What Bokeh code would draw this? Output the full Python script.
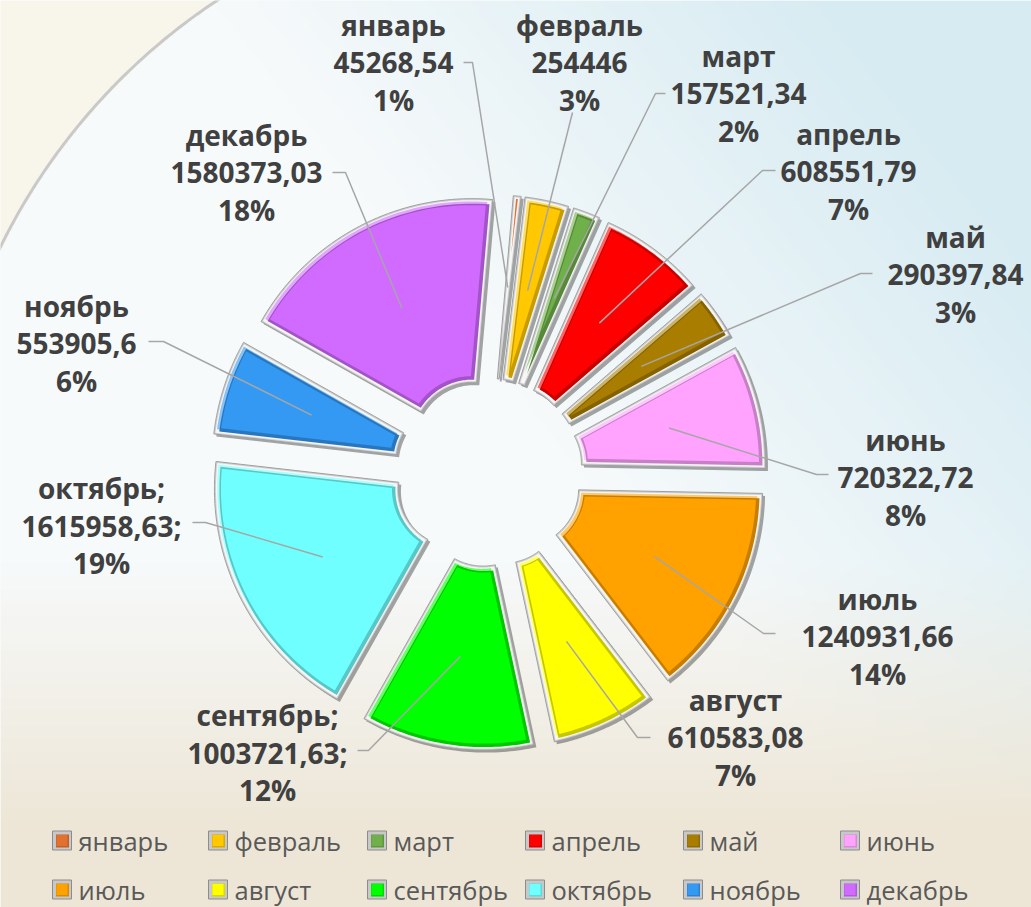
import math
import numpy as np
from bokeh.plotting import figure
from bokeh.models import Range1d, ColumnDataSource
from bokeh.embed import file_html
from bokeh.resources import INLINE
from bokeh.core.properties import value

# ---------------- data ----------------
months = ["январь", "февраль", "март", "апрель", "май", "июнь",
          "июль", "август", "сентябрь", "октябрь", "ноябрь", "декабрь"]
amounts = [45268.54, 254446, 157521.34, 608551.79, 290397.84, 720322.72,
           1240931.66, 610583.08, 1003721.63, 1615958.63, 553905.6, 1580373.03]
label_suffix = ["", "", "", "", "", "", "", "", ";", ";", "", ""]
colors = ["#e2702f", "#ffc800", "#6fb04a", "#ff0000", "#a97e00", "#ffa3ff",
          "#ffa200", "#ffff00", "#00ff00", "#70ffff", "#3399f3", "#d16bff"]

# ---------------- layout ----------------
WIDTH, HEIGHT = 1031, 907
CX, CY = 488.0, 472.0
R_IN, R_OUT = 58.0, 242.0
EXPLODE = 36.0
START_DEG = 5.0
LEADER_R = 150.0
LINE_GAP = 37.5

label_pos = [(393, 62), (579, 62), (738, 93), (848, 171), (955, 274), (905, 477),
             (877, 636), (735, 737), (267, 752), (101, 525), (76, 343), (246, 172)]
leader_tail = [[(472, 62), (463, 62)], [(572, 112)], [(655, 93), (665, 93)],
               [(762, 170), (775, 170)], [(860, 273), (872, 273)],
               [(816, 474), (828, 474)], [(763, 633), (775, 633)],
               [(637, 737), (650, 737)], [(368, 750), (357, 750)],
               [(205, 522), (192, 522)], [(163, 341), (148, 341)],
               [(345, 172), (332, 172)]]
legend_x = [52, 208, 367, 525, 683, 840]
legend_y = [840, 889]
BG_CX, BG_CY, BG_R = 562.0, 522.0, 626.0


def mix(hexc, other, t):
    a = [int(hexc[i:i + 2], 16) for i in (1, 3, 5)]
    return "#%02x%02x%02x" % tuple(int(round(a[k] * (1 - t) + other[k] * t)) for k in range(3))


def ring_poly(cx, cy, r1, r2, a1, a2, d=0.0, n=48):
    half = math.radians(a2 - a1) / 2
    if d > 0:
        r1e = max(r1 + d, d / math.sin(half) + 0.3)
        r2e = r2 - d
        if r1e >= r2e - 0.5:
            return None
    else:
        r1e, r2e = r1, r2

    def arc(r, rev):
        da = math.degrees(math.asin(min(1.0, d / r))) if d > 0 else 0.0
        s, e = a1 + da, a2 - da
        if e < s:
            s = e = (a1 + a2) / 2
        angs = np.radians(np.linspace(s, e, n))
        if rev:
            angs = angs[::-1]
        return list(cx + r * np.sin(angs)), list(cy - r * np.cos(angs))

    ox, oy = arc(r2e, False)
    ix, iy = arc(r1e, True)
    return ox + ix, oy + iy


total = float(sum(amounts))
cum = np.concatenate([[0.0], np.cumsum(amounts)])

p = figure(width=WIDTH, height=HEIGHT, x_range=Range1d(0, WIDTH), y_range=Range1d(HEIGHT, 0),
           output_backend="svg", toolbar_location=None, min_border=0,
           x_axis_location=None, y_axis_location=None)
p.grid.visible = False
p.outline_line_color = None
p.background_fill_color = "#f6f9fa"
p.border_fill_color = "#f6f9fa"

# ---------------- background ----------------
H, W = 300, 340
ys = np.linspace(0, HEIGHT, H)
xs = np.linspace(0, WIDTH, W)
X, Y = np.meshgrid(xs, ys)
white = np.array([247, 250, 251.0])
blue = np.array([214, 235, 242.0])
beige = np.array([237, 230, 214.0])
cream = np.array([248, 245, 235.0])
tb = np.clip((X / 1031 - 0.55) * 1.6 + (0.5 - Y / 907) * 1.1, 0, 1)[..., None]
ty = np.clip((Y / 907 - 0.62) / 0.3, 0, 1)[..., None]
outside = ((((X - BG_CX) ** 2 + (Y - BG_CY) ** 2) > BG_R ** 2) & (X < BG_CX) & (Y < BG_CY))[..., None]
col_in = white * (1 - tb) + blue * tb
col_in = col_in * (1 - ty) + beige * ty
col_out = cream * (1 - ty) + beige * ty
col = np.where(outside, col_out, col_in)
img = np.empty((H, W), dtype=np.uint32)
view = img.view(dtype=np.uint8).reshape((H, W, 4))
view[..., 0] = col[..., 0]
view[..., 1] = col[..., 1]
view[..., 2] = col[..., 2]
view[..., 3] = 255
p.image_rgba(image=[img], x=0, y=0, dw=WIDTH, dh=HEIGHT)
tt_arc = np.radians(np.linspace(85, 185, 200))
p.line(x=BG_CX + BG_R * np.cos(tt_arc), y=BG_CY - BG_R * np.sin(tt_arc),
       line_color="#c4c4c4", line_width=3, line_alpha=0.9)

# ---------------- slices ----------------
layers = {k: {"xs": [], "ys": [], "c": []} for k in
          ["shadow", "frame", "white", "light", "dark", "body"]}
ends = []
for i, v in enumerate(amounts):
    a1 = START_DEG + cum[i] / total * 360.0
    a2 = START_DEG + cum[i + 1] / total * 360.0
    mid = math.radians((a1 + a2) / 2)
    cx = CX + EXPLODE * math.sin(mid)
    cy = CY - EXPLODE * math.cos(mid)
    ends.append((cx + LEADER_R * math.sin(mid), cy - LEADER_R * math.cos(mid)))

    fx, fy = ring_poly(cx, cy, R_IN, R_OUT, a1, a2, 0)
    layers["shadow"]["xs"].append([x + 2.5 for x in fx])
    layers["shadow"]["ys"].append([y + 2.5 for y in fy])
    layers["shadow"]["c"].append("#3a3a3a")
    layers["frame"]["xs"].append(fx)
    layers["frame"]["ys"].append(fy)
    layers["frame"]["c"].append("#cfcfcf")
    w = ring_poly(cx, cy, R_IN, R_OUT, a1, a2, 1.5)
    if w:
        layers["white"]["xs"].append(w[0])
        layers["white"]["ys"].append(w[1])
        layers["white"]["c"].append("#f6f6f6")
    bev = ring_poly(cx, cy, R_IN, R_OUT, a1, a2, 4.0)
    if bev:
        layers["light"]["xs"].append([x - 1.2 for x in bev[0]])
        layers["light"]["ys"].append([y - 1.2 for y in bev[1]])
        layers["light"]["c"].append(mix(colors[i], (255, 255, 255), 0.4))
        layers["dark"]["xs"].append([x + 1.0 for x in bev[0]])
        layers["dark"]["ys"].append([y + 1.0 for y in bev[1]])
        layers["dark"]["c"].append(mix(colors[i], (0, 0, 0), 0.22))
    body = None
    for d in (6.5, 5.0, 3.0, 1.5, 0.5):
        body = ring_poly(cx, cy, R_IN, R_OUT, a1, a2, d)
        if body:
            break
    if body is None:
        body = (fx, fy)
    layers["body"]["xs"].append(body[0])
    layers["body"]["ys"].append(body[1])
    layers["body"]["c"].append(colors[i])

p.patches(xs="xs", ys="ys", fill_color="c", fill_alpha=0.45, line_color=None,
          source=ColumnDataSource(layers["shadow"]))
p.patches(xs="xs", ys="ys", fill_color="c", line_color="#a0a0a0", line_width=1,
          source=ColumnDataSource(layers["frame"]))
for k in ["white", "light", "dark", "body"]:
    p.patches(xs="xs", ys="ys", fill_color="c", line_color=None,
              source=ColumnDataSource(layers[k]))

# ---------------- leader lines ----------------
lx, ly = [], []
for i in range(len(amounts)):
    pts = [ends[i]] + leader_tail[i]
    lx.append([q[0] for q in pts])
    ly.append([q[1] for q in pts])
p.multi_line(xs=lx, ys=ly, line_color="#a6a6a6", line_width=1.5)

# ---------------- data labels ----------------
tx, tyy, tt = [], [], []
for i, v in enumerate(amounts):
    vs = (str(v) if not float(v).is_integer() else str(int(v))).replace(".", ",")
    pct = "%d%%" % int(round(v / total * 100))
    lines = [months[i] + label_suffix[i], vs + label_suffix[i], pct]
    for j, s in enumerate(lines):
        tx.append(label_pos[i][0])
        tyy.append(label_pos[i][1] + (j - 1) * LINE_GAP)
        tt.append(s)
p.text(x=tx, y=tyy, text=tt, text_font=value("Open Sans"), text_font_style="bold",
       text_font_size="28px", text_color="#404040", text_align="center",
       text_baseline="middle")

# ---------------- legend ----------------
mx, my, mc, gx, gy, gt = [], [], [], [], [], []
for i, m in enumerate(months):
    r, c = divmod(i, 6)
    mx.append(legend_x[c] + 9.5)
    my.append(legend_y[r])
    mc.append(colors[i])
    gx.append(legend_x[c] + 26)
    gy.append(legend_y[r])
    gt.append(m)
p.rect(x=mx, y=my, width=19, height=19, fill_color="#c8c8c8", line_color="#8c8c8c", line_width=1)
p.rect(x=[x + 0.5 for x in mx], y=[y + 0.5 for y in my], width=13, height=13,
       fill_color=[mix(c, (0, 0, 0), 0.15) for c in mc], line_color=None)
p.rect(x=mx, y=my, width=11, height=11, fill_color=mc, line_color=None)
p.text(x=gx, y=gy, text=gt, text_font=value("Open Sans"), text_font_size="25.5px",
       text_color="#595959", text_align="left", text_baseline="middle")

open("out.html", "w").write(file_html(p, INLINE))
